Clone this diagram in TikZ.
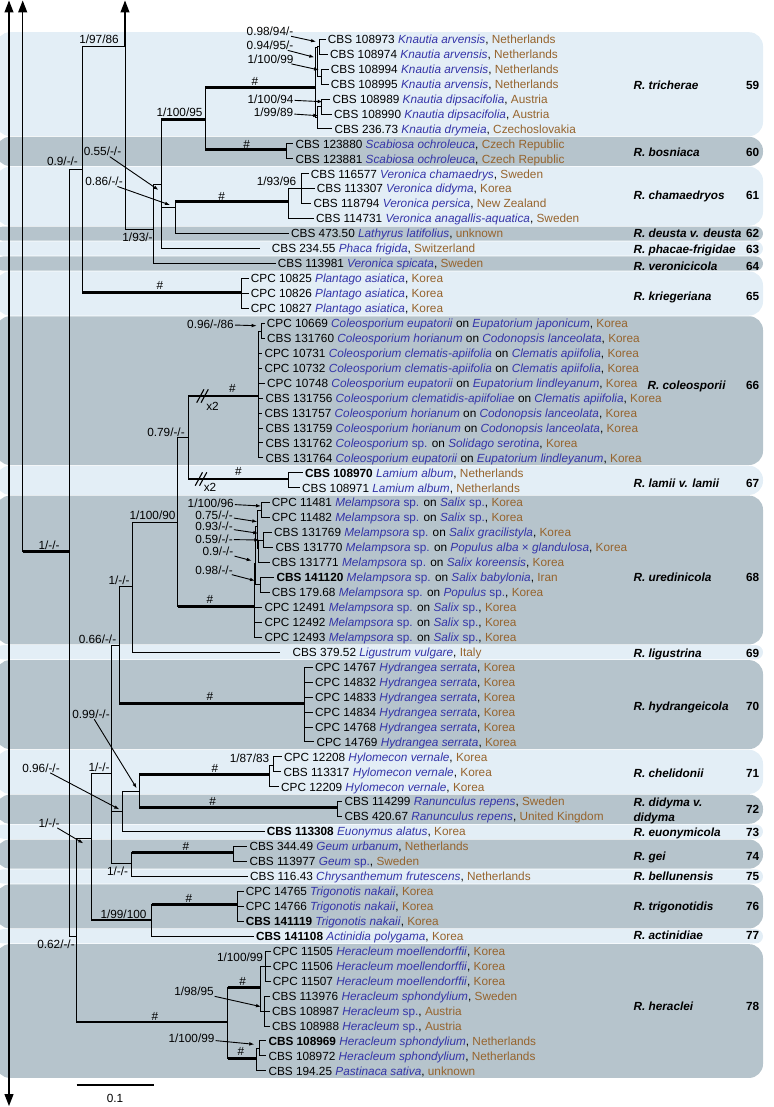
\documentclass[tikz,border=0pt]{standalone}
\usepackage{fontspec}
\setmainfont{Liberation Sans}
\usetikzlibrary{arrows.meta}
\definecolor{taxblue}{RGB}{52,52,168}
\definecolor{ctbrown}{RGB}{150,100,45}
\definecolor{bandlight}{RGB}{227,238,246}
\definecolor{banddark}{RGB}{182,196,204}
\newcommand{\spn}[1]{\textcolor{taxblue}{\textit{#1}}}
\newcommand{\cty}[1]{\textcolor{ctbrown}{#1}}
\newcommand{\spp}{\textcolor{taxblue}{sp.}}
\newcommand{\ry}[1]{39.3+14.95*#1}
\tikzset{
    %Define standard arrow tip
    >={Latex[length=5pt,width=3.6pt]},
    % branches
    br/.style={line width=1pt},
    brthick/.style={line width=2.8pt},
    % lines running on to the other parts of the tree
    axisline/.style={line width=1.2pt, -{Triangle[length=12pt,width=9pt]}},
    axisboth/.style={line width=1.2pt, {Triangle[length=12pt,width=9pt]}-{Triangle[length=12pt,width=9pt]}},
    % pointer from a support value
    pointer/.style={->, line width=0.9pt, shorten <=1pt},
    % texts
    leaf/.style={anchor=west, inner xsep=2pt, inner ysep=0pt, text height=8.4pt, text depth=0pt},
    bs/.style={inner sep=0pt, text height=8.4pt, text depth=0pt},
    clade/.style={anchor=west, inner sep=0pt, text height=8.4pt, text depth=0pt,
                  font=\fontsize{11.8}{15}\selectfont\bfseries\itshape},
    cnum/.style={anchor=east, inner sep=0pt, text height=8.4pt, text depth=0pt,
                 font=\fontsize{11.8}{15}\selectfont\bfseries}
}
\begin{document}
\begin{tikzpicture}[x=1pt, y=-1pt, font=\fontsize{11.8}{15}\selectfont]
\useasboundingbox (0,0) rectangle (773,1107);

%%%%%%%%%%%%%%%%%%%%%%%%%%%%%%%%%

% bands of the species
\foreach \a/\b/\c in {0/6/bandlight, 7/8/banddark, 9/12/bandlight, 13/13/banddark,
    14/14/bandlight, 15/15/banddark, 16/18/bandlight, 19/28/banddark, 29/30/bandlight,
    31/40/banddark, 41/41/bandlight, 42/47/banddark, 48/50/bandlight, 51/52/banddark,
    53/53/bandlight, 54/55/banddark, 56/56/bandlight, 57/59/banddark, 60/60/bandlight,
    61/69/banddark}{
  \pgfmathsetmacro{\bt}{39.3+14.95*\a-7.1}
  \pgfmathsetmacro{\bb}{39.3+14.95*\b+7.1}
  \pgfmathsetmacro{\bandr}{min(14,(\bb-\bt)/2)}
  \fill[\c, rounded corners=\bandr pt] (-4,\bt) rectangle (763,\bb);
}

% species names and numbers
\foreach \y/\nm/\nr in {85/R. tricherae/59, 152.7/R. bosniaca/60, 195.7/R. chamaedryos/61,
    233.3/R. deusta v. deusta/62, 249.3/R. phacae-frigidae/63, 266.7/R. veronicicola/64,
    296.3/R. kriegeriana/65, 483.3/R. lamii v. lamii/67, 577.7/R. uredinicola/68,
    653/R. ligustrina/69, 706.7/R. hydrangeicola/70, 773.3/R. chelidonii/71,
    832.3/R. euonymicola/73, 856.7/R. gei/74, 876.7/R. bellunensis/75,
    906.7/R. trigonotidis/76, 935.7/R. actinidiae/77, 1006/R. heraclei/78}{
  \node[clade] (cn\nr) at (633.3,\y) {\nm};
  \node[cnum] (cnum\nr) at (759.5,\y) {\nr};
}
\node[clade] (cn66) at (647.3,385) {R. coleosporii};
\node[cnum] (cnum66) at (759.5,385) {66};
\node[clade] (cn72a) at (633.3,802.3) {R. didyma v.};
\node[clade] (cn72b) at (633.3,817.3) {didyma};
\node[cnum] (cnum72) at (759.5,809.5) {72};

% isolates
\node[leaf] (l0) at (325.7,\ry{0}) {CBS 108973 \spn{Knautia arvensis}, \cty{Netherlands}};
\node[leaf] (l1) at (328,\ry{1}) {CBS 108974 \spn{Knautia arvensis}, \cty{Netherlands}};
\node[leaf] (l2) at (328.7,\ry{2}) {CBS 108994 \spn{Knautia arvensis}, \cty{Netherlands}};
\node[leaf] (l3) at (328.7,\ry{3}) {CBS 108995 \spn{Knautia arvensis}, \cty{Netherlands}};
\node[leaf] (l4) at (330.3,\ry{4}) {CBS 108989 \spn{Knautia dipsacifolia}, \cty{Austria}};
\node[leaf] (l5) at (332,\ry{5}) {CBS 108990 \spn{Knautia dipsacifolia}, \cty{Austria}};
\node[leaf] (l6) at (332.3,\ry{6}) {CBS 236.73 \spn{Knautia drymeia}, \cty{Czechoslovakia}};
\node[leaf] (l7) at (293.3,\ry{7}) {CBS 123880 \spn{Scabiosa ochroleuca}, \cty{Czech Republic}};
\node[leaf] (l8) at (293.3,\ry{8}) {CBS 123881 \spn{Scabiosa ochroleuca}, \cty{Czech Republic}};
\node[leaf] (l9) at (308.7,\ry{9}) {CBS 116577 \spn{Veronica chamaedrys}, \cty{Sweden}};
\node[leaf] (l10) at (314.7,\ry{10}) {CBS 113307 \spn{Veronica didyma}, \cty{Korea}};
\node[leaf] (l11) at (311.3,\ry{11}) {CBS 118794 \spn{Veronica persica}, \cty{New Zealand}};
\node[leaf] (l12) at (314,\ry{12}) {CBS 114731 \spn{Veronica anagallis-aquatica}, \cty{Sweden}};
\node[leaf] (l13) at (289,\ry{13}) {CBS 473.50 \spn{Lathyrus latifolius}, \cty{unknown}};
\node[leaf, inner xsep=11.7pt] (l14) at (260,\ry{14}) {CBS 234.55 \spn{Phaca frigida}, \cty{Switzerland}};
\node[leaf] (l15) at (275.7,\ry{15}) {CBS 113981 \spn{Veronica spicata}, \cty{Sweden}};
\node[leaf] (l16) at (248.7,\ry{16}) {CPC 10825 \spn{Plantago asiatica}, \cty{Korea}};
\node[leaf] (l17) at (248.7,\ry{17}) {CPC 10826 \spn{Plantago asiatica}, \cty{Korea}};
\node[leaf] (l18) at (248.7,\ry{18}) {CPC 10827 \spn{Plantago asiatica}, \cty{Korea}};
\node[leaf] (l19) at (264.7,\ry{19}) {CPC 10669 \spn{Coleosporium eupatorii} on \spn{Eupatorium japonicum}, \cty{Korea}};
\node[leaf] (l20) at (265,\ry{20}) {CBS 131760 \spn{Coleosporium horianum} on \spn{Codonopsis lanceolata}, \cty{Korea}};
\node[leaf] (l21) at (262.3,\ry{21}) {CPC 10731 \spn{Coleosporium clematis-apiifolia} on \spn{Clematis apiifolia}, \cty{Korea}};
\node[leaf] (l22) at (262.3,\ry{22}) {CPC 10732 \spn{Coleosporium clematis-apiifolia} on \spn{Clematis apiifolia}, \cty{Korea}};
\node[leaf] (l23) at (265,\ry{23}) {CPC 10748 \spn{Coleosporium eupatorii} on \spn{Eupatorium lindleyanum}, \cty{Korea}};
\node[leaf] (l24) at (263.3,\ry{24}) {CBS 131756 \spn{Coleosporium clematidis-apiifoliae} on \spn{Clematis apiifolia}, \cty{Korea}};
\node[leaf] (l25) at (262.3,\ry{25}) {CBS 131757 \spn{Coleosporium horianum} on \spn{Codonopsis lanceolata}, \cty{Korea}};
\node[leaf] (l26) at (263.3,\ry{26}) {CBS 131759 \spn{Coleosporium horianum} on \spn{Codonopsis lanceolata}, \cty{Korea}};
\node[leaf] (l27) at (263.3,\ry{27}) {CBS 131762 \spn{Coleosporium} \spp{} on \spn{Solidago serotina}, \cty{Korea}};
\node[leaf] (l28) at (263.3,\ry{28}) {CBS 131764 \spn{Coleosporium eupatorii} on \spn{Eupatorium lindleyanum}, \cty{Korea}};
\node[leaf] (l29) at (303,\ry{29}) {\textbf{CBS 108970} \spn{Lamium album}, \cty{Netherlands}};
\node[leaf] (l30) at (300,\ry{30}) {CBS 108971 \spn{Lamium album}, \cty{Netherlands}};
\node[leaf] (l31) at (269.7,\ry{31}) {CPC 11481 \spn{Melampsora} \spp{} on \spn{Salix} \spp, \cty{Korea}};
\node[leaf] (l32) at (269.7,\ry{32}) {CPC 11482 \spn{Melampsora} \spp{} on \spn{Salix} \spp, \cty{Korea}};
\node[leaf] (l33) at (272,\ry{33}) {CBS 131769 \spn{Melampsora} \spp{} on \spn{Salix gracilistyla}, \cty{Korea}};
\node[leaf] (l34) at (273.3,\ry{34}) {CBS 131770 \spn{Melampsora} \spp{} on \spn{Populus alba} \textcolor{taxblue}{×} \spn{glandulosa}, \cty{Korea}};
\node[leaf] (l35) at (269.7,\ry{35}) {CBS 131771 \spn{Melampsora} \spp{} on \spn{Salix koreensis}, \cty{Korea}};
\node[leaf] (l36) at (274.3,\ry{36}) {\textbf{CBS 141120} \spn{Melampsora} \spp{} on \spn{Salix babylonia}, \cty{Iran}};
\node[leaf] (l37) at (269.7,\ry{37}) {CBS 179.68 \spn{Melampsora} \spp{} on \spn{Populus} \spp, \cty{Korea}};
\node[leaf] (l38) at (262.3,\ry{38}) {CPC 12491 \spn{Melampsora} \spp{} on \spn{Salix} \spp, \cty{Korea}};
\node[leaf] (l39) at (262.3,\ry{39}) {CPC 12492 \spn{Melampsora} \spp{} on \spn{Salix} \spp, \cty{Korea}};
\node[leaf] (l40) at (262.3,\ry{40}) {CPC 12493 \spn{Melampsora} \spp{} on \spn{Salix} \spp, \cty{Korea}};
\node[leaf, inner xsep=12.3pt] (l41) at (280,\ry{41}) {CBS 379.52 \spn{Ligustrum vulgare}, \cty{Italy}};
\node[leaf] (l42) at (313,\ry{42}) {CPC 14767 \spn{Hydrangea serrata}, \cty{Korea}};
\node[leaf] (l43) at (313,\ry{43}) {CPC 14832 \spn{Hydrangea serrata}, \cty{Korea}};
\node[leaf] (l44) at (313,\ry{44}) {CPC 14833 \spn{Hydrangea serrata}, \cty{Korea}};
\node[leaf] (l45) at (313,\ry{45}) {CPC 14834 \spn{Hydrangea serrata}, \cty{Korea}};
\node[leaf] (l46) at (313,\ry{46}) {CPC 14768 \spn{Hydrangea serrata}, \cty{Korea}};
\node[leaf] (l47) at (314.3,\ry{47}) {CPC 14769 \spn{Hydrangea serrata}, \cty{Korea}};
\node[leaf] (l48) at (282,\ry{48}) {CPC 12208 \spn{Hylomecon vernale}, \cty{Korea}};
\node[leaf] (l49) at (281.3,\ry{49}) {CBS 113317 \spn{Hylomecon vernale}, \cty{Korea}};
\node[leaf] (l50) at (279,\ry{50}) {CPC 12209 \spn{Hylomecon vernale}, \cty{Korea}};
\node[leaf] (l51) at (342.3,\ry{51}) {CBS 114299 \spn{Ranunculus repens}, \cty{Sweden}};
\node[leaf] (l52) at (342.3,\ry{52}) {CBS 420.67 \spn{Ranunculus repens}, \cty{United Kingdom}};
\node[leaf] (l53) at (264.7,\ry{53}) {\textbf{CBS 113308} \spn{Euonymus alatus}, \cty{Korea}};
\node[leaf] (l54) at (247.3,\ry{54}) {CBS 344.49 \spn{Geum urbanum}, \cty{Netherlands}};
\node[leaf] (l55) at (247.3,\ry{55}) {CBS 113977 \spn{Geum} \spp, \cty{Sweden}};
\node[leaf] (l56) at (248,\ry{56}) {CBS 116.43 \spn{Chrysanthemum frutescens}, \cty{Netherlands}};
\node[leaf] (l57) at (243.7,\ry{57}) {CPC 14765 \spn{Trigonotis nakaii}, \cty{Korea}};
\node[leaf] (l58) at (243.7,\ry{58}) {CPC 14766 \spn{Trigonotis nakaii}, \cty{Korea}};
\node[leaf] (l59) at (243.7,\ry{59}) {\textbf{CBS 141119} \spn{Trigonotis nakaii}, \cty{Korea}};
\node[leaf] (l60) at (254,\ry{60}) {\textbf{CBS 141108} \spn{Actinidia polygama}, \cty{Korea}};
\node[leaf] (l61) at (270.7,\ry{61}) {CPC 11505 \spn{Heracleum moellendorffii}, \cty{Korea}};
\node[leaf] (l62) at (270.7,\ry{62}) {CPC 11506 \spn{Heracleum moellendorffii}, \cty{Korea}};
\node[leaf] (l63) at (270.7,\ry{63}) {CPC 11507 \spn{Heracleum moellendorffii}, \cty{Korea}};
\node[leaf] (l64) at (270,\ry{64}) {CBS 113976 \spn{Heracleum sphondylium}, \cty{Sweden}};
\node[leaf] (l65) at (270,\ry{65}) {CBS 108987 \spn{Heracleum} \spp, \cty{Austria}};
\node[leaf] (l66) at (270,\ry{66}) {CBS 108988 \spn{Heracleum} \spp, \cty{Austria}};
\node[leaf] (l67) at (266.3,\ry{67}) {\textbf{CBS 108969} \spn{Heracleum sphondylium}, \cty{Netherlands}};
\node[leaf] (l68) at (266.3,\ry{68}) {CBS 108972 \spn{Heracleum sphondylium}, \cty{Netherlands}};
\node[leaf] (l69) at (266.3,\ry{69}) {CBS 194.25 \spn{Pastinaca sativa}, \cty{unknown}};

% tree nodes (x of the node, y where its stem joins)
\coordinate (n22) at (22.7,551.7);
\coordinate (n69) at (69,551.7);
\coordinate (n82) at (82,169.3);
\coordinate (n125) at (125,46.7);
\coordinate (n153) at (153,230);
\coordinate (n161) at (161,185);
\coordinate (n205) at (205,119.3);
\coordinate (k0) at (315,87.3);
\coordinate (k1) at (317,48);
\coordinate (k2) at (319,46.8);
\coordinate (k3) at (321,76.7);
\coordinate (k4) at (317,118);
\coordinate (k5) at (321,106.6);
\coordinate (sc) at (286.7,149.3);
\coordinate (n175) at (175,207.3);
\coordinate (v0) at (288.3,201.7);
\coordinate (v1) at (301.7,188.8);
\coordinate (pl) at (241,292.3);
\coordinate (n77) at (76.7,936.7);
\coordinate (n92) at (91.7,838.3);
\coordinate (n112) at (111.7,773.3);
\coordinate (n119) at (119.3,645);
\coordinate (n133) at (132.7,586.7);
\coordinate (n178) at (177.7,522.3);
\coordinate (n188) at (188.3,437.7);
\coordinate (co) at (258.3,396);
\coordinate (c1) at (261.5,331.8);
\coordinate (la) at (288.3,479);
\coordinate (me) at (254.3,606.7);
\coordinate (m1) at (255.8,563);
\coordinate (m2) at (257.3,526);
\coordinate (m3) at (261.7,510);
\coordinate (m4) at (258.8,548);
\coordinate (m5) at (263.3,540);
\coordinate (m6) at (260,584);
\coordinate (hy) at (304,703.3);
\coordinate (n122) at (122.7,811);
\coordinate (n139) at (139.3,791.7);
\coordinate (hl) at (269.3,774.3);
\coordinate (hl1) at (273,765);
\coordinate (ra) at (337.3,807.7);
\coordinate (n132) at (131.7,863.3);
\coordinate (ge) at (233.3,852.7);
\coordinate (n152) at (151.7,920);
\coordinate (tr) at (237.7,904.3);
\coordinate (n228) at (227.7,1022);
\coordinate (n260) at (260,987.3);
\coordinate (h1) at (265.7,966.2);
\coordinate (h2) at (264,1011);
\coordinate (n257) at (256.7,1058.3);
\coordinate (h3) at (259.3,1048);

% lines going on to the rest of the tree
\coordinate (up9) at (9,0.5);
\coordinate (dn9) at (9,1106);
\coordinate (up22) at (22.7,0.5);
\coordinate (up125) at (125,0.5);
\draw[axisboth] (dn9) -- (up9);
\draw[axisline] (n22) -- (up22);
\draw[axisline] (n125) -- (up125);

% branches
\draw[br] (n22) -- (n69);
\draw[br] (n69) |- (n82);
\draw[br] (n69) |- (n77);
\draw[br] (n82) |- (n125);
\draw[br] (n82) |- (pl);
\draw[br] (n125) |- (n153);
\draw[br] (n153) |- (n161);
\draw[br] (n153) |- (l15);
\draw[br] (n161) |- (n205);
\draw[br] (n161) |- (n175);
\draw[br] (n161) |- (l14);
\draw[br] (n205) |- (k0);
\draw[br] (n205) |- (sc);
\draw[br] (k0) |- (k1);
\draw[br] (k0) |- (k4);
\draw[br] (k1) |- (k2);
\draw[br] (k1) |- (k3);
\draw[br] (k2) |- (l0);
\draw[br] (k2) |- (l1);
\draw[br] (k3) |- (l2);
\draw[br] (k3) |- (l3);
\draw[br] (k4) |- (k5);
\draw[br] (k4) |- (l6);
\draw[br] (k5) |- (l4);
\draw[br] (k5) |- (l5);
\draw[br] (sc) |- (l7);
\draw[br] (sc) |- (l8);
\draw[br] (n175) |- (v0);
\draw[br] (n175) |- (l13);
\draw[br] (v0) |- (v1);
\draw[br] (v0) |- (l12);
\foreach \i in {9,10,11} \draw[br] (v1) |- (l\i);
\foreach \i in {16,17,18} \draw[br] (pl) |- (l\i);
\draw[br] (n77) |- (n92);
\draw[br] (n77) |- (n228);
\draw[br] (n92) |- (n112);
\draw[br] (n92) |- (n152);
\draw[br] (n112) |- (n119);
\draw[br] (n112) |- (n122);
\draw[br] (n112) |- (n132);
\draw[br] (n119) |- (n133);
\draw[br] (n119) |- (hy);
\draw[br] (n133) |- (n178);
\draw[br] (n133) |- (l41);
\draw[br] (n178) |- (n188);
\draw[br] (n178) |- (me);
\draw[br] (n188) |- (co);
\draw[br] (n188) |- (la);
\draw[br] (co) |- (c1);
\foreach \i in {21,...,28} \draw[br] (co) |- (l\i);
\draw[br] (c1) |- (l19);
\draw[br] (c1) |- (l20);
\draw[br] (la) |- (l29);
\draw[br] (la) |- (l30);
\draw[br] (me) |- (m1);
\foreach \i in {38,39,40} \draw[br] (me) |- (l\i);
\draw[br] (m1) |- (m2);
\draw[br] (m1) |- (m6);
\draw[br] (m2) |- (m3);
\draw[br] (m2) |- (m4);
\draw[br] (m3) |- (l31);
\draw[br] (m3) |- (l32);
\draw[br] (m4) |- (m5);
\draw[br] (m4) |- (l35);
\draw[br] (m5) |- (l33);
\draw[br] (m5) |- (l34);
\draw[br] (m6) |- (l36);
\draw[br] (m6) |- (l37);
\foreach \i in {42,...,47} \draw[br] (hy) |- (l\i);
\draw[br] (n122) |- (n139);
\draw[br] (n122) |- (l53);
\draw[br] (n139) |- (hl);
\draw[br] (n139) |- (ra);
\draw[br] (hl) |- (hl1);
\draw[br] (hl) |- (l50);
\draw[br] (hl1) |- (l48);
\draw[br] (hl1) |- (l49);
\draw[br] (ra) |- (l51);
\draw[br] (ra) |- (l52);
\draw[br] (n132) |- (ge);
\draw[br] (n132) |- (l56);
\draw[br] (ge) |- (l54);
\draw[br] (ge) |- (l55);
\draw[br] (n152) |- (tr);
\draw[br] (n152) |- (l60);
\foreach \i in {57,58,59} \draw[br] (tr) |- (l\i);
\draw[br] (n228) |- (n260);
\draw[br] (n228) |- (n257);
\draw[br] (n260) |- (h1);
\draw[br] (n260) |- (h2);
\foreach \i in {61,62,63} \draw[br] (h1) |- (l\i);
\foreach \i in {64,65,66} \draw[br] (h2) |- (l\i);
\draw[br] (n257) |- (h3);
\draw[br] (n257) |- (l69);
\draw[br] (h3) |- (l67);
\draw[br] (h3) |- (l68);

% thick stems
\foreach \p/\c in {n22/n69, n82/pl, n161/n205, n205/k0, n205/sc, n175/v0, n188/co,
    n188/la, n178/me, n119/hy, n139/hl, n139/ra, n132/ge, n92/n152, n152/tr,
    n77/n228, n228/n260, n228/n257}
  \draw[brthick] (\p |- \c) -- (\c);

% breaks in two stems
\draw[line width=1.1pt] (196.7,402.7) -- (204,389.3) (201,402.7) -- (208.3,389.3);
\draw[line width=1.1pt] (195.2,485.7) -- (202.5,472.3) (199.5,485.7) -- (206.8,472.3);
\node[bs] (x2a) at (212.5,406) {x2};
\node[bs] (x2b) at (210,487.3) {x2};

% support values
\node[bs] (s125) at (99,39.5) {1/97/86};
\node[bs] (s82) at (62.5,161.7) {0.9/-/-};
\node[bs] (s161) at (102.5,151.7) {0.55/-/-};
\node[bs] (s175) at (104,181.7) {0.86/-/-};
\node[bs] (s153) at (137.5,237) {1/93/-};
\node[bs] (s205) at (179.5,112.7) {1/100/95};
\node[bs] (sk2) at (270,31.7) {0.98/94/-};
\node[bs] (sk1) at (270,45.7) {0.94/95/-};
\node[bs] (sk3) at (270.5,59.3) {1/100/99};
\node[bs] (sk5) at (270.5,99.3) {1/100/94};
\node[bs] (sk4) at (273.5,112.7) {1/99/89};
\node[bs] (sv1) at (276.5,181.7) {1/93/96};
\node[bs] (sc1) at (210.5,324.3) {0.96/-/86};
\node[bs] (s188) at (166,432.3) {0.79/-/-};
\node[bs] (s178) at (152.5,515.7) {1/100/90};
\node[bs] (sm3) at (210.7,503.3) {1/100/96};
\node[bs] (sm2) at (214,515) {0.75/-/-};
\node[bs] (sm4) at (214,526.7) {0.93/-/-};
\node[bs] (sm5) at (214,539.3) {0.59/-/-};
\node[bs] (sm1) at (218,551.7) {0.9/-/-};
\node[bs] (sm6) at (214,570) {0.98/-/-};
\node[bs] (s133) at (119,580.7) {1/-/-};
\node[bs] (s119) at (97.5,639) {0.66/-/-};
\node[bs] (s139) at (91,714) {0.99/-/-};
\node[bs] (shl1) at (249.5,758.3) {1/87/83};
\node[bs] (s122) at (41,768) {0.96/-/-};
\node[bs] (s112) at (99,767) {1/-/-};
\node[bs] (s92) at (49,823) {1/-/-};
\node[bs] (s132) at (117.5,871.7) {1/-/-};
\node[bs] (s152) at (123.5,914.3) {1/99/100};
\node[bs] (s77) at (56,944.3) {0.62/-/-};
\node[bs] (s69) at (49,545) {1/-/-};
\node[bs] (sh1) at (240,957.7) {1/100/99};
\node[bs] (sh2) at (194,991.7) {1/98/95};
\node[bs] (sh3) at (191.5,1038.3) {1/100/99};

% pointers
\coordinate (tk2) at (316,41.7);
\coordinate (tk1) at (314.3,57.3);
\coordinate (tk3) at (319,70);
\coordinate (tk5) at (322.7,101.7);
\coordinate (tk4) at (318.3,115.7);
\coordinate (t161) at (158.5,190);
\coordinate (t175) at (170,205);
\coordinate (tc1) at (256.7,325.7);
\coordinate (tm3) at (261,506);
\coordinate (tm2) at (257.3,521.7);
\coordinate (tm4) at (258.3,533.3);
\coordinate (tm5) at (259.3,540);
\coordinate (tm1) at (251.7,560.7);
\coordinate (tm6) at (255,580.7);
\coordinate (t139) at (136.7,788.3);
\coordinate (t122) at (119.3,809.3);
\coordinate (t92) at (83.3,843.3);
\coordinate (th2) at (261,1006.7);
\coordinate (th3) at (254.3,1044.3);
\foreach \s/\t in {sk2/tk2, sk1/tk1, sk3/tk3, sk5/tk5, sk4/tk4, s161/t161, s175/t175,
    sc1/tc1, sm3/tm3, sm2/tm2, sm4/tm4, sm5/tm5, sm1/tm1, sm6/tm6, s139/t139,
    s122/t122, s92/t92, sh2/th2, sh3/th3}
  \draw[pointer] (\s) -- (\t);

% long branches
\node[bs] (hk0) at (255,81.7) {\#};
\node[bs] (hsc) at (246.7,144) {\#};
\node[bs] (hv0) at (221.7,196) {\#};
\node[bs] (hpl) at (160,285) {\#};
\node[bs] (hco) at (232.3,388.3) {\#};
\node[bs] (hla) at (238.3,471.7) {\#};
\node[bs] (hme) at (210,599.3) {\#};
\node[bs] (hhy) at (210,696) {\#};
\node[bs] (hhl) at (215,768.3) {\#};
\node[bs] (hra) at (212.7,801.7) {\#};
\node[bs] (hge) at (186,846) {\#};
\node[bs] (htr) at (189,898.3) {\#};
\node[bs] (h228) at (155,1016.7) {\#};
\node[bs] (h260) at (242.7,981.7) {\#};
\node[bs] (h257) at (241,1051.7) {\#};

% scale bar
\coordinate (sb1) at (76.7,1085);
\coordinate (sb2) at (154,1085);
\draw[line width=1.2pt] (sb1) -- (sb2);
\node[bs] (sbl) at (115,1098.3) {0.1};

\end{tikzpicture}
\end{document}
